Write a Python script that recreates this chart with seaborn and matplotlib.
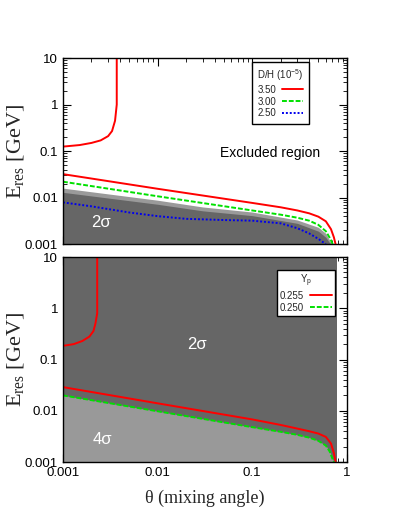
import numpy as np
import pandas as pd
import matplotlib
matplotlib.use("Agg")
import matplotlib.pyplot as plt
import matplotlib.ticker as mticker
import seaborn as sns

# ---------------- data ----------------
# Top panel: D/H (10^-5) contours
dh_labels = ["3.50", "3.00", "2.50"]
dh350_up_x = [0.001, 0.0015, 0.002, 0.0025, 0.003, 0.0033, 0.00355, 0.0037, 0.0037, 0.0037]
dh350_up_y = [0.125, 0.135, 0.15, 0.17, 0.21, 0.27, 0.45, 1.0, 3.0, 10.0]
dh350_lo_x = [0.001, 0.01, 0.1, 0.2, 0.3, 0.4, 0.5, 0.6, 0.68, 0.73, 0.76]
dh350_lo_y = [0.032, 0.0155, 0.0077, 0.0062, 0.0053, 0.0046, 0.0039, 0.0031, 0.0021, 0.0014, 0.001]
dh300_x = [0.001, 0.01, 0.1, 0.2, 0.3, 0.4, 0.5, 0.6, 0.67, 0.71]
dh300_y = [0.022, 0.0107, 0.0053, 0.0043, 0.0037, 0.0032, 0.0026, 0.0019, 0.0013, 0.001]
dh250_x = [0.001, 0.002, 0.005, 0.01, 0.02, 0.05, 0.1, 0.2, 0.3, 0.4, 0.5, 0.6]
dh250_y = [0.0079, 0.0065, 0.0048, 0.0040, 0.0035, 0.0033, 0.0032, 0.0028, 0.0022, 0.0017, 0.0013, 0.001]
# Top panel: 2-sigma allowed region (dark) and band above it (medium gray)
dh_2s_x = [0.001, 0.01, 0.03, 0.1, 0.3, 0.5, 0.6, 0.65, 0.68]
dh_2s_y = [0.013, 0.0072, 0.0052, 0.0041, 0.0028, 0.0019, 0.0014, 0.0011, 0.001]
dh_band_x = [0.001, 0.01, 0.03, 0.1, 0.3, 0.5, 0.6, 0.66, 0.70]
dh_band_y = [0.016, 0.0088, 0.0063, 0.0049, 0.0033, 0.0023, 0.0017, 0.0012, 0.001]

# Bottom panel: Y_p contours
yp_labels = ["0.255", "0.250"]
yp255_up_x = [0.001, 0.0013, 0.0016, 0.0019, 0.0021, 0.0022, 0.0023, 0.0023, 0.0023]
yp255_up_y = [0.185, 0.2, 0.23, 0.28, 0.36, 0.5, 0.8, 2.0, 10.0]
yp255_lo_x = [0.001, 0.01, 0.1, 0.2, 0.3, 0.4, 0.5, 0.6, 0.68, 0.73, 0.76]
yp255_lo_y = [0.029, 0.014, 0.0068, 0.0053, 0.0045, 0.0040, 0.0036, 0.0031, 0.0023, 0.0015, 0.001]
yp250_x = [0.001, 0.01, 0.1, 0.2, 0.3, 0.4, 0.5, 0.6, 0.66, 0.70, 0.73]
yp250_y = [0.020, 0.0098, 0.0048, 0.0039, 0.0034, 0.0030, 0.0026, 0.0021, 0.0016, 0.0012, 0.001]
yp_2s_theta_max = 0.78

x_ticks = [0.001, 0.01, 0.1, 1]
y_ticks = [0.001, 0.01, 0.1, 1, 10]
x_lim = (0.001, 1)
y_lim = (0.001, 10)

# ---------------- style ----------------
sns.set_style("ticks")
plt.rcParams["font.family"] = ["Liberation Sans", "DejaVu Sans"]
plt.rcParams["xtick.direction"] = "in"
plt.rcParams["ytick.direction"] = "in"
plt.rcParams["mathtext.fontset"] = "custom"
plt.rcParams["mathtext.rm"] = "Liberation Serif"
plt.rcParams["mathtext.it"] = "Liberation Serif:italic"
plt.rcParams["mathtext.sf"] = "Liberation Sans"

DARK = "#666666"
MID = "#9a9a9a"
LIGHT = "#999999"
RED = "#ff0000"
GREEN = "#00e000"
BLUE = "#0000ee"

fig = plt.figure(figsize=(4.09, 5.14), dpi=100)
ax1 = fig.add_axes([0.154, 0.525, 0.694, 0.362])
ax2 = fig.add_axes([0.154, 0.101, 0.694, 0.399])


def line(ax, x, y, color, ls, label=None):
    df = pd.DataFrame({"x": x, "y": y})
    sns.lineplot(data=df, x="x", y="y", ax=ax, color=color, linestyle=ls,
                 linewidth=1.4, sort=False, estimator=None, label=label,
                 legend=False)


def style_axes(ax, show_x):
    ax.set_xscale("log")
    ax.set_yscale("log")
    ax.set_xlim(*x_lim)
    ax.set_ylim(*y_lim)
    ax.xaxis.set_major_locator(mticker.FixedLocator(x_ticks))
    ax.yaxis.set_major_locator(mticker.FixedLocator(y_ticks))
    ax.xaxis.set_minor_locator(mticker.LogLocator(base=10, subs=np.arange(2, 10), numticks=20))
    ax.yaxis.set_minor_locator(mticker.LogLocator(base=10, subs=np.arange(2, 10), numticks=20))
    fmt = mticker.FuncFormatter(lambda v, p: "%g" % v)
    ax.xaxis.set_major_formatter(fmt)
    ax.yaxis.set_major_formatter(fmt)
    ax.xaxis.set_minor_formatter(mticker.NullFormatter())
    ax.yaxis.set_minor_formatter(mticker.NullFormatter())
    ax.tick_params(which="both", direction="in", top=True, right=True, colors="black")
    ax.tick_params(which="major", length=6, width=0.8, labelsize=9.5)
    ax.tick_params(which="minor", length=3, width=0.6)
    if not show_x:
        ax.tick_params(axis="x", which="both", labelbottom=False)
    for s in ax.spines.values():
        s.set_visible(True)
        s.set_color("black")
        s.set_linewidth(1.0)
    ax.set_ylabel(r"E$_{\rm res}$ [GeV]", family="Liberation Serif", fontsize=16)
    ax.yaxis.set_label_coords(-0.132, 0.5)
    ax.set_xlabel("")
    ax.set_facecolor("white")


# ---------------- top panel ----------------
ax1.fill_between(dh_band_x, dh_band_y, y_lim[0], color=MID, lw=0, zorder=1)
ax1.fill_between(dh_2s_x, dh_2s_y, y_lim[0], color=DARK, lw=0, zorder=1.1)
line(ax1, dh350_up_x, dh350_up_y, RED, "-")
line(ax1, dh350_lo_x, dh350_lo_y, RED, "-")
line(ax1, dh300_x, dh300_y, GREEN, (0, (2.5, 1)))
line(ax1, dh250_x, dh250_y, BLUE, (0, (1, 1)))
style_axes(ax1, show_x=False)

h1 = [plt.Line2D([], [], color=RED, lw=1.4, ls="-"),
      plt.Line2D([], [], color=GREEN, lw=1.4, ls=(0, (2.5, 1))),
      plt.Line2D([], [], color=BLUE, lw=1.4, ls=(0, (1, 1)))]
leg1 = ax1.legend(h1, dh_labels, title=r"D/H (10$^{\mathsf{-5}}$)", loc="upper right",
                  bbox_to_anchor=(0.866, 0.978), markerfirst=False, fontsize=7,
                  title_fontsize=7, frameon=True, fancybox=False, framealpha=1,
                  edgecolor="black", handlelength=2.2, handletextpad=0.6,
                  borderpad=0.55, labelspacing=0.2, borderaxespad=0)
leg1.get_frame().set_linewidth(1.0)

ax1.text(0.73, 0.49, "Excluded region", transform=ax1.transAxes, fontsize=10,
         ha="center", va="center", color="black")
ax1.text(0.135, 0.115, "2σ", transform=ax1.transAxes, fontsize=12,
         ha="center", va="center", color="white")

# ---------------- bottom panel ----------------
ax2.fill_between([x_lim[0], yp_2s_theta_max], y_lim[1], y_lim[0], color=DARK, lw=0, zorder=1)
ax2.fill_between(yp250_x, yp250_y, y_lim[0], color=LIGHT, lw=0, zorder=1.1)
line(ax2, yp255_up_x, yp255_up_y, RED, "-")
line(ax2, yp255_lo_x, yp255_lo_y, RED, "-")
line(ax2, yp250_x, yp250_y, GREEN, (0, (2.5, 1)))
style_axes(ax2, show_x=True)
ax2.set_xlabel("θ (mixing angle)", family="Liberation Serif", fontsize=13, labelpad=8)

h2 = [plt.Line2D([], [], color=RED, lw=1.4, ls="-"),
      plt.Line2D([], [], color=GREEN, lw=1.4, ls=(0, (2.5, 1)))]
leg2 = ax2.legend(h2, yp_labels, title=r"Y$_{\mathsf{p}}$", loc="upper right",
                  bbox_to_anchor=(0.958, 0.937), markerfirst=False, fontsize=7,
                  title_fontsize=7, frameon=True, fancybox=False, framealpha=1,
                  edgecolor="black", handlelength=2.3, handletextpad=0.6,
                  borderpad=0.3, labelspacing=0.2, borderaxespad=0)
leg2.get_frame().set_linewidth(1.0)

ax2.text(0.473, 0.575, "2σ", transform=ax2.transAxes, fontsize=12,
         ha="center", va="center", color="white")
ax2.text(0.14, 0.108, "4σ", transform=ax2.transAxes, fontsize=12,
         ha="center", va="center", color="white")

fig.savefig("out.png", dpi=100, facecolor="white")
